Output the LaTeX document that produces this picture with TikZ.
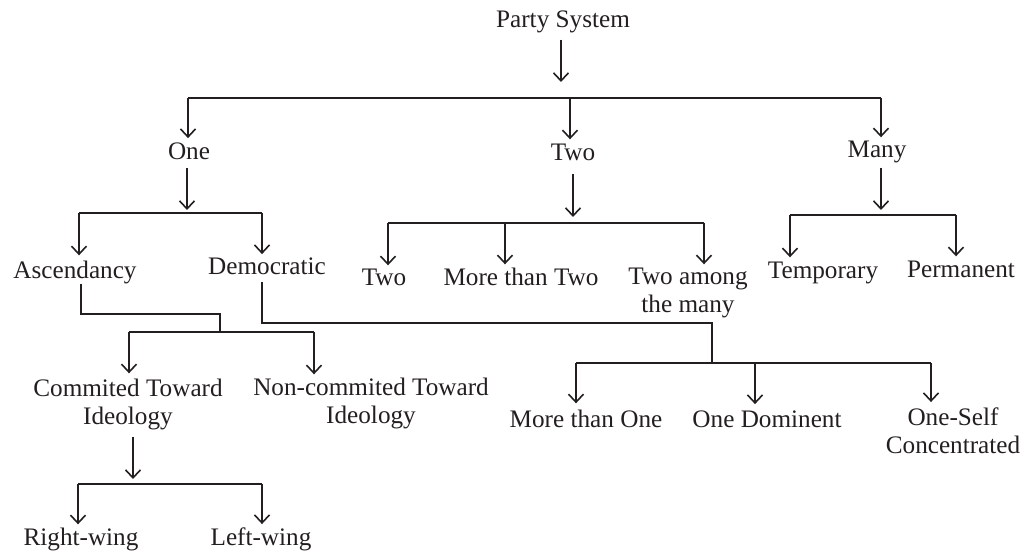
\documentclass[tikz,border=0pt]{standalone}
\usepackage{fontspec}
\setmainfont{Liberation Serif}
\usetikzlibrary{arrows.meta}
\definecolor{txt}{RGB}{35,31,32}
\begin{document}
\begin{tikzpicture}[x=1pt,y=-1pt,
  ln/.style={line width=1.3pt, draw=txt},
  arr/.style={ln, -{Straight Barb[length=8pt,width=15pt,line width=1.6pt]}},
  lbl/.style={inner sep=0pt, anchor=base, text=txt, font=\fontsize{25.2}{28}\selectfont, align=center}]
\useasboundingbox (0,0) rectangle (1032,553);
% nodes (base anchor = baseline of last line)
\node[lbl] (ps) at (563,28) {Party System};
\node[lbl] (one) at (189,160) {One};
\node[lbl] (two) at (573,161) {Two};
\node[lbl] (many) at (877,158) {Many};
\node[lbl] (asc) at (75,278) {Ascendancy};
\node[lbl] (dem) at (267,274) {Democratic};
\node[lbl] (tw2) at (384,285) {Two};
\node[lbl] (mtt) at (521,285) {More than Two};
\node[lbl] (tam) at (688,312) {Two among\\the many};
\node[lbl] (temp) at (823,278) {Temporary};
\node[lbl] (perm) at (961,277) {Permanent};
\node[lbl] (com) at (128,424) {Commited Toward\\Ideology};
\node[lbl] (non) at (371,423) {Non-commited Toward\\Ideology};
\node[lbl] (rw) at (81,545) {Right-wing};
\node[lbl] (lw) at (261,545) {Left-wing};
\node[lbl] (mto) at (586,427) {More than One};
\node[lbl] (od) at (767,427) {One Dominent};
\node[lbl] (osc) at (953,453) {One-Self\\Concentrated};
% level 0
\coordinate (j0) at (561,82);
\draw[arr, shorten <=6pt] (ps.south -| j0) -- (j0);
\coordinate (b0a) at (188,98);
\coordinate (b0b) at (570,98);
\coordinate (b0c) at (881,98);
\draw[ln] (b0a) -- (b0c);
\draw[arr, shorten >=5pt] (b0a) -- (b0a |- one.north);
\draw[arr, shorten >=5pt] (b0b) -- (b0b |- two.north);
\draw[arr, shorten >=4pt] (b0c) -- (b0c |- many.north);
% One
\coordinate (j1) at (187,210);
\draw[arr, shorten <=8pt] (one.south -| j1) -- (j1);
\coordinate (b1a) at (79,213);
\coordinate (b1b) at (262,213);
\draw[ln] (b1a) -- (b1b);
\draw[arr, shorten >=5pt] (b1a) -- (b1a |- asc.north);
\draw[arr, shorten >=3pt] (b1b) -- (b1b |- dem.north);
% Two
\coordinate (j2) at (573,217);
\draw[arr, shorten <=13pt] (two.south -| j2) -- (j2);
\coordinate (b2a) at (388,223);
\coordinate (b2b) at (505,223);
\coordinate (b2c) at (704,223);
\draw[ln] (b2a) -- (b2c);
\draw[arr, shorten >=3pt] (b2a) -- (b2a |- tw2.north);
\draw[arr, shorten >=3pt] (b2b) -- (b2b |- mtt.north);
\draw[arr, shorten >=3pt] (b2c) -- (b2c |- tam.north);
% Many
\coordinate (j3) at (881,210);
\draw[arr, shorten <=4pt] (many.south -| j3) -- (j3);
\coordinate (b3a) at (790,215);
\coordinate (b3b) at (956,215);
\draw[ln] (b3a) -- (b3b);
\draw[arr, shorten >=4pt] (b3a) -- (b3a |- temp.north);
\draw[arr, shorten >=4pt] (b3b) -- (b3b |- perm.north);
% Ascendancy
\coordinate (e1) at (81,314);
\coordinate (e2) at (220,314);
\coordinate (e3) at (220,332);
\draw[ln] (asc.south -| e1) -- (e1) -- (e2) -- (e3);
\coordinate (b4a) at (129,332);
\coordinate (b4b) at (314,332);
\draw[ln] (b4a) -- (b4b);
\draw[arr, shorten >=5pt] (b4a) -- (b4a |- com.north);
\draw[arr, shorten >=3pt] (b4b) -- (b4b |- non.north);
% Commited
\coordinate (j5) at (133,479);
\draw[arr, shorten <=7pt] (com.south -| j5) -- (j5);
\coordinate (b5a) at (78,484);
\coordinate (b5b) at (262,484);
\draw[ln] (b5a) -- (b5b);
\draw[arr, shorten >=3pt] (b5a) -- (b5a |- rw.north);
\draw[arr, shorten >=3pt] (b5b) -- (b5b |- lw.north);
% Democratic
\coordinate (d1) at (262,323);
\coordinate (d2) at (712,323);
\coordinate (d3) at (712,363);
\draw[ln, shorten <=8pt] (dem.south -| d1) -- (d1) -- (d2) -- (d3);
\coordinate (b6a) at (576,363);
\coordinate (b6b) at (755,363);
\coordinate (b6c) at (931,363);
\draw[ln] (b6a) -- (b6c);
\draw[arr, shorten >=6pt] (b6a) -- (b6a |- mto.north);
\draw[arr, shorten >=6pt] (b6b) -- (b6b |- od.north);
\draw[arr, shorten >=5pt] (b6c) -- (b6c |- osc.north);
\end{tikzpicture}
\end{document}
